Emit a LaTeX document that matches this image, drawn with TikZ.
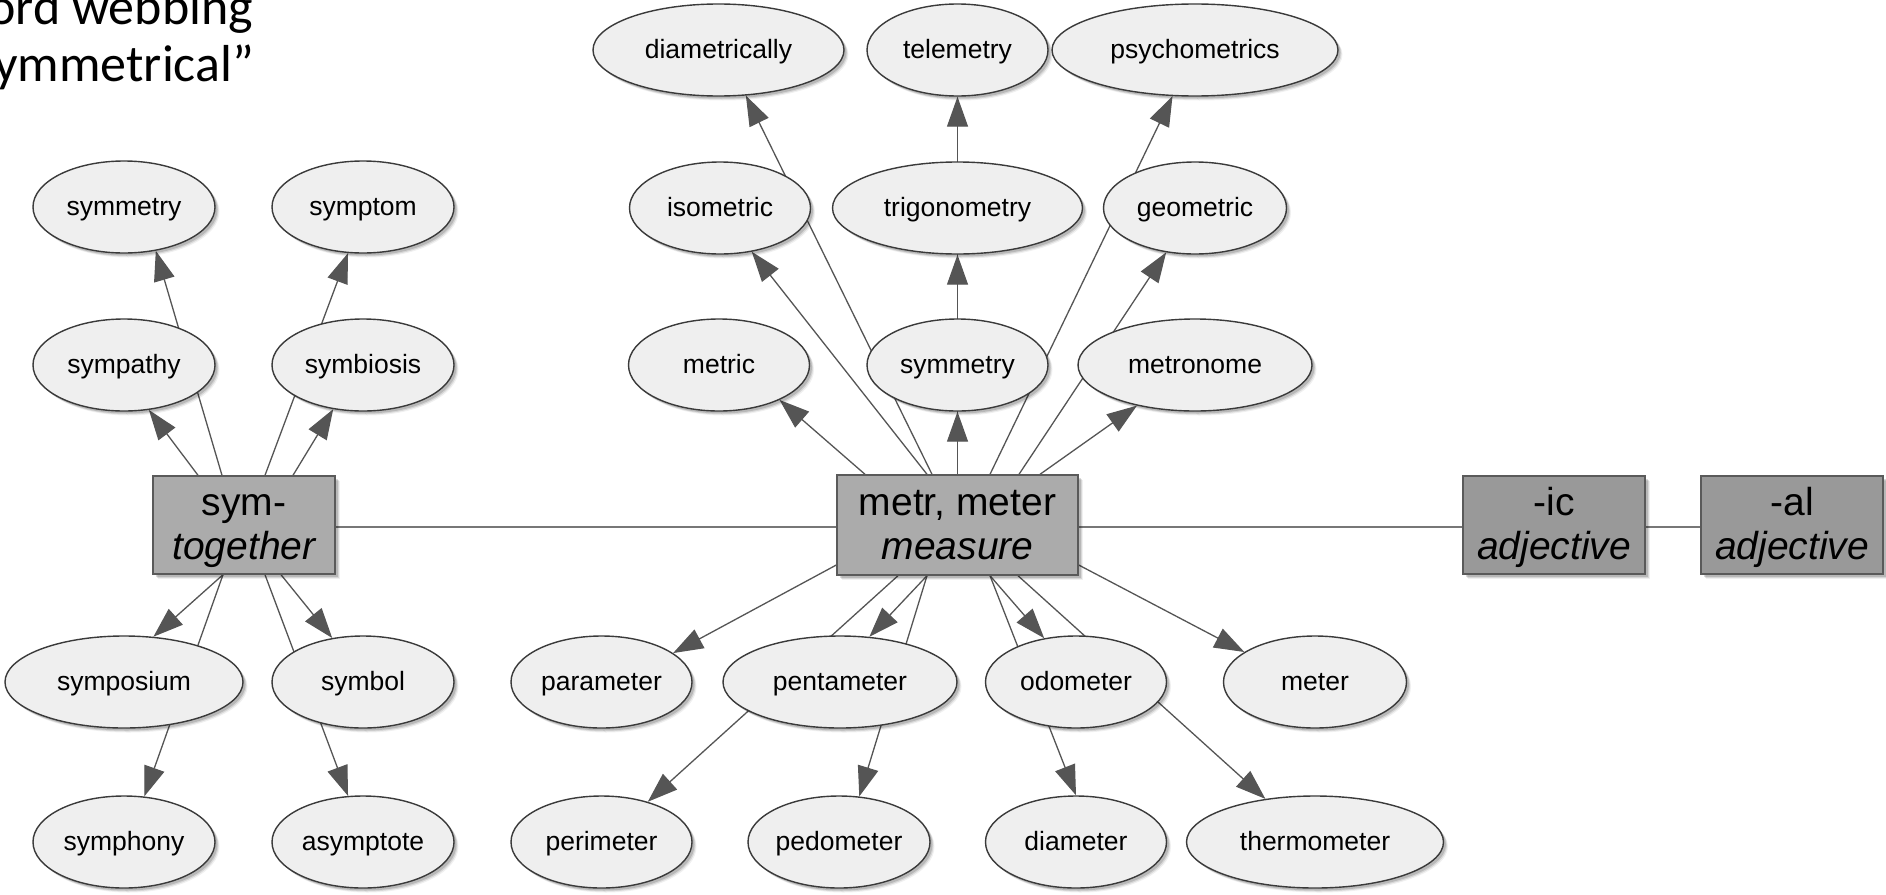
\documentclass[tikz,border=0pt]{standalone}
\usepackage{fontspec}
\setmainfont{Liberation Sans}
\newfontfamily\titlefont{Carlito}
\usetikzlibrary{shapes.geometric, arrows.meta, shadows}

\pgfdeclarelayer{bg}
\pgfdeclarelayer{edges}
\pgfsetlayers{bg,edges,main}

\definecolor{ellfill}{HTML}{EFEFEF}
\definecolor{ellline}{HTML}{3A3A3A}
\definecolor{rootfill}{HTML}{ABABAB}
\definecolor{sufffill}{HTML}{999999}
\definecolor{boxline}{HTML}{5A5A5A}
\definecolor{edgecol}{HTML}{555555}
\definecolor{jointcol}{HTML}{777777}

% invisible rules that fix the two baselines inside the boxes
\newcommand\bxtop{\rule{0pt}{34pt}}
\newcommand\bxbot{\rule[-9.2pt]{0pt}{9.2pt}}

\tikzset{
  % soft drop shadow built from a few stacked offset copies
  softshadow/.style={
      general shadow={shadow xshift=4.5pt, shadow yshift=-4.5pt, fill=black, opacity=.06},
      general shadow={shadow xshift=3.5pt, shadow yshift=-3.5pt, fill=black, opacity=.10},
      general shadow={shadow xshift=2.5pt, shadow yshift=-2.5pt, fill=black, opacity=.14}},
  word/.style={ellipse, draw=ellline, line width=1.4pt, fill=ellfill,
      minimum height=92pt, inner sep=0pt, softshadow,
      font=\fontsize{26.5}{30}\selectfont, text height=23pt, text depth=5.5pt},
  rootbox/.style={rectangle, draw=boxline, line width=1.4pt, fill=rootfill,
      minimum width=182pt, minimum height=98pt, inner sep=0pt, align=center,
      softshadow, font=\fontsize{39}{44}\selectfont},
  suffbox/.style={rootbox, fill=sufffill},
  link/.style={draw=edgecol, line width=1.3pt,
      -{Triangle[length=30pt, width=21pt]}},
  joint/.style={draw=jointcol, line width=1.4pt},
  titletext/.style={anchor=base west, inner sep=0pt,
      font=\titlefont\fontsize{52}{57}\selectfont},
}

\begin{document}
\begin{tikzpicture}[x=1pt, y=-1pt]
\useasboundingbox (0,0) rectangle (1886,894);
\begin{pgfonlayer}{bg}
  \fill[white] (0,0) rectangle (1886,894);
\end{pgfonlayer}

% heading, cut by the page edge
\begin{scope}
  \clip (0,0) rectangle (1886,894);
  \node[titletext] (head1) at (-12,24) {ord webbing};
  \node[titletext] (head2) at (-6,81) {ymmetrical”};
\end{scope}

% sym- family
\node[word, minimum width=182pt] (symmetryL) at (124,207) {symmetry};
\node[word, minimum width=182pt] (symptom)   at (363,207) {symptom};
\node[word, minimum width=182pt] (sympathy)  at (124,365) {sympathy};
\node[word, minimum width=182pt] (symbiosis) at (363,365) {symbiosis};
\node[rootbox] (sym) at (244,525) {\bxtop sym-\\\bxbot\itshape together};
\node[word, minimum width=238pt] (symposium) at (124,682) {symposium};
\node[word, minimum width=182pt] (symbol)    at (363,682) {symbol};
\node[word, minimum width=182pt] (symphony)  at (124,842) {symphony};
\node[word, minimum width=182pt] (asymptote) at (363,842) {asymptote};

% metr family
\node[word, minimum width=251pt] (diametrically) at (718.5,50) {diametrically};
\node[word, minimum width=181pt] (telemetry)     at (957.5,50) {telemetry};
\node[word, minimum width=286pt] (psychometrics) at (1195,50) {psychometrics};
\node[word, minimum width=181pt] (isometric)     at (720,208) {isometric};
\node[word, minimum width=250pt] (trigonometry)  at (957.5,208) {trigonometry};
\node[word, minimum width=183pt] (geometric)     at (1195,208) {geometric};
\node[word, minimum width=181pt] (metric)        at (719,365) {metric};
\node[word, minimum width=181pt] (symmetryM)     at (957.5,365) {symmetry};
\node[word, minimum width=234pt] (metronome)     at (1195,365) {metronome};
\node[rootbox, minimum width=241pt, minimum height=100pt] (metr) at (957.5,525)
  {\bxtop metr, meter\\\bxbot\itshape measure};
\node[suffbox] (ic) at (1554,525) {\bxtop -ic\\\bxbot\itshape adjective};
\node[suffbox] (al) at (1792,525) {\bxtop -al\\\bxbot\itshape adjective};
\node[word, minimum width=181pt] (parameter)   at (601.5,682) {parameter};
\node[word, minimum width=234pt] (pentameter)  at (840,682) {pentameter};
\node[word, minimum width=181pt] (odometer)    at (1076,682) {odometer};
\node[word, minimum width=183pt] (meter)       at (1315,682) {meter};
\node[word, minimum width=181pt] (perimeter)   at (601.5,842) {perimeter};
\node[word, minimum width=182pt] (pedometer)   at (839,842) {pedometer};
\node[word, minimum width=181pt] (diameter)    at (1076,842) {diameter};
\node[word, minimum width=257pt] (thermometer) at (1315,842) {thermometer};

\begin{pgfonlayer}{edges}
  % links between the roots and suffixes
  \draw[joint] ([yshift=-2pt]sym.east)  -- ([yshift=-2pt]metr.west);
  \draw[joint] ([yshift=-2pt]metr.east) -- ([yshift=-2pt]ic.west);
  \draw[joint] ([yshift=-2pt]ic.east)   -- ([yshift=-2pt]al.west);

  % sym- words
  \draw[link] ([xshift=-46pt]sym.north) -- (sympathy.-61);
  \draw[link] ([xshift=-22pt]sym.north) -- (symmetryL.-54);
  \draw[link] ([xshift=21pt]sym.north)  -- (symptom.-108);
  \draw[link] ([xshift=49pt]sym.north)  -- (symbiosis.-124);
  \draw[link] ([xshift=-21pt]sym.south) -- (symposium.57);
  \draw[link] ([xshift=-21pt]sym.south) -- (symphony.66);
  \draw[link] ([xshift=37pt]sym.south)  -- (symbol.125);
  \draw[link] ([xshift=21pt]sym.south)  -- (asymptote.108);

  % metr words above
  \draw[link] ([xshift=-92.5pt]metr.north) -- (metric.-30);
  \draw[link] ([xshift=-30.5pt]metr.north) -- (isometric.-54);
  \draw[link] ([xshift=-25.5pt]metr.north) -- (diametrically.-59);
  \draw[link] (metr.north) -- (symmetryM.south);
  \draw[link] (metr.north) -- (trigonometry.south);
  \draw[link] (metr.north) -- (telemetry.south);
  \draw[link] ([xshift=32.5pt]metr.north) -- (psychometrics.-116);
  \draw[link] ([xshift=61.5pt]metr.north) -- (geometric.-123);
  \draw[link] ([xshift=82.5pt]metr.north) -- (metronome.-145);

  % metr words below
  \draw[link] ([yshift=-40pt]metr.west)    -- (parameter.22);
  \draw[link] ([xshift=-30.5pt]metr.south) -- (pentameter.57);
  \draw[link] ([xshift=-59.5pt]metr.south) -- (perimeter.41);
  \draw[link] ([xshift=-30.5pt]metr.south) -- (pedometer.66);
  \draw[link] ([xshift=32.5pt]metr.south)  -- (odometer.126);
  \draw[link] ([xshift=32.5pt]metr.south)  -- (diameter.north);
  \draw[link] ([xshift=60.5pt]metr.south)  -- (thermometer.139);
  \draw[link] ([yshift=-40pt]metr.east)    -- (meter.157);
\end{pgfonlayer}
\end{tikzpicture}
\end{document}
